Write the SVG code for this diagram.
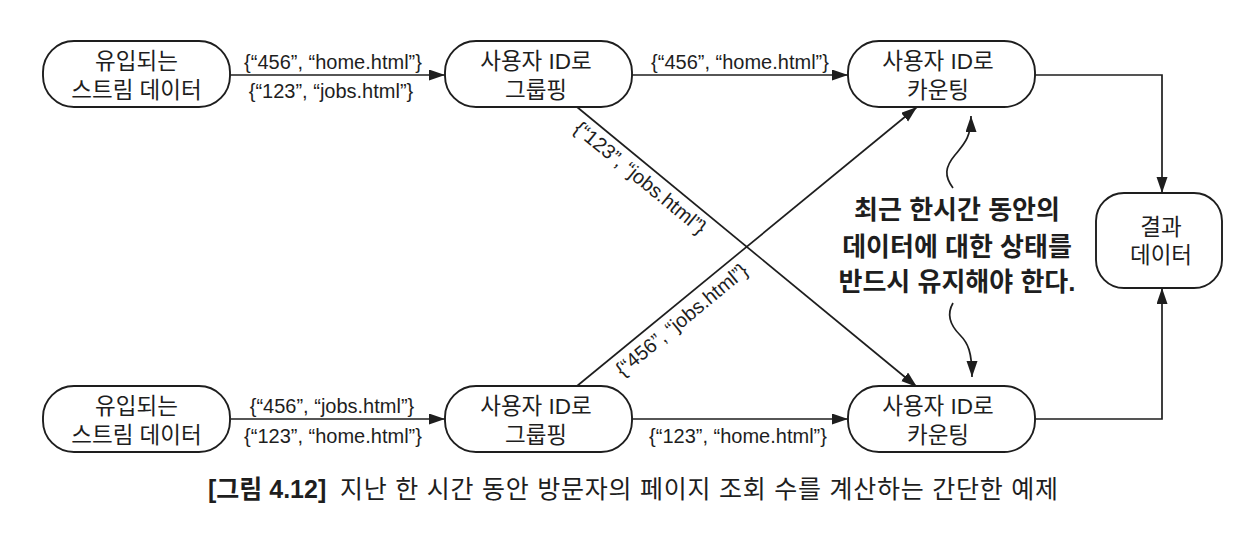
<svg xmlns="http://www.w3.org/2000/svg" width="1240" height="538" viewBox="0 0 1240 538">
<style>
.node rect{fill:#fff;stroke:#1e1e1e;stroke-width:1.9}
.nt{font-family:"Liberation Sans","Noto Sans CJK KR",sans-serif;font-size:22.5px;fill:#1e1e1e;text-anchor:middle}
.lbl{font-family:"Liberation Sans","Noto Sans CJK KR",sans-serif;font-size:20px;fill:#1e1e1e;text-anchor:middle}
.conn path{fill:none;stroke:#1e1e1e;stroke-width:1.7}
.arr{marker-end:url(#ah)}
.note{font-family:"Liberation Sans","Noto Sans CJK KR",sans-serif;font-size:26px;font-weight:bold;fill:#1e1e1e;text-anchor:middle}
.cap{font-family:"Liberation Sans","Noto Sans CJK KR",sans-serif;font-size:25px;fill:#1e1e1e}
</style>
<defs>
<marker id="ah" markerUnits="userSpaceOnUse" markerWidth="17" markerHeight="12" refX="16" refY="5.5" orient="auto">
<path d="M0,0 L16,5.5 L0,11 z" fill="#1e1e1e"/>
</marker>
</defs>
<rect width="1240" height="538" fill="#fff"/>

<g id="connectors" class="conn">
<path class="arr" d="M230,75 L445,75"/>
<path class="arr" d="M231,419 L445,419"/>
<path class="arr" d="M632,75 L848,75"/>
<path class="arr" d="M632,419 L848,419"/>
<path class="arr" d="M577,107 L917,387"/>
<path class="arr" d="M577,386 L917,107"/>
<path class="arr" d="M1035,75 L1162,75 L1162,193"/>
<path class="arr" d="M1035,419 L1162,419 L1162,288"/>
<path class="arr" d="M953,188 C944,176 945,167 955,155 C964,144 971,138 971,116"/>
<path class="arr" d="M953,303 C946,315 950,325 960,335 C968,343 972,352 972,377"/>
</g>

<g id="edge-labels">
<text class="lbl" x="333" y="69">{“456”, “home.html”}</text>
<text class="lbl" x="331" y="98">{“123”, “jobs.html”}</text>
<text class="lbl" x="740" y="69">{“456”, “home.html”}</text>
<text class="lbl" x="332" y="413">{“456”, “jobs.html”}</text>
<text class="lbl" x="333" y="443">{“123”, “home.html”}</text>
<text class="lbl" x="738" y="443">{“123”, “home.html”}</text>
<text class="lbl" x="636" y="183" transform="rotate(39.5 636 183)">{“123”, “jobs.html”}</text>
<text class="lbl" x="686" y="325" transform="rotate(-39.5 686 325)">{“456”, “jobs.html”}</text>
</g>

<g id="n-input-top" class="node">
<rect x="43" y="41" width="187" height="66" rx="31"/>
<text class="nt" x="136.5" y="69">유입되는</text>
<text class="nt" x="136.5" y="98">스트림 데이터</text>
</g>
<g id="n-group-top" class="node">
<rect x="445" y="41" width="187" height="66" rx="31"/>
<text class="nt" x="536" y="69">사용자 ID로</text>
<text class="nt" x="536" y="98">그룹핑</text>
</g>
<g id="n-count-top" class="node">
<rect x="848" y="41" width="187" height="66" rx="31"/>
<text class="nt" x="938" y="69">사용자 ID로</text>
<text class="nt" x="938" y="98">카운팅</text>
</g>
<g id="n-input-bottom" class="node">
<rect x="43" y="386" width="187" height="66" rx="31"/>
<text class="nt" x="136.5" y="414">유입되는</text>
<text class="nt" x="136.5" y="443">스트림 데이터</text>
</g>
<g id="n-group-bottom" class="node">
<rect x="445" y="386" width="187" height="66" rx="31"/>
<text class="nt" x="536" y="414">사용자 ID로</text>
<text class="nt" x="536" y="443">그룹핑</text>
</g>
<g id="n-count-bottom" class="node">
<rect x="848" y="386" width="187" height="66" rx="31"/>
<text class="nt" x="938" y="414">사용자 ID로</text>
<text class="nt" x="938" y="443">카운팅</text>
</g>
<g id="n-result" class="node">
<rect x="1096" y="193" width="126" height="95" rx="28"/>
<text class="nt" x="1161" y="235">결과</text>
<text class="nt" x="1161" y="263">데이터</text>
</g>

<g id="annotation">
<text class="note" x="957" y="219">최근 한시간 동안의</text>
<text class="note" x="957" y="256">데이터에 대한 상태를</text>
<text class="note" x="957" y="291">반드시 유지해야 한다.</text>
</g>

<g id="caption">
<text class="cap" x="208" y="498" font-weight="bold" font-size="24">[그림 4.12]</text>
<text class="cap" x="340" y="498" textLength="718" lengthAdjust="spacing">지난 한 시간 동안 방문자의 페이지 조회 수를 계산하는 간단한 예제</text>
</g>
</svg>
